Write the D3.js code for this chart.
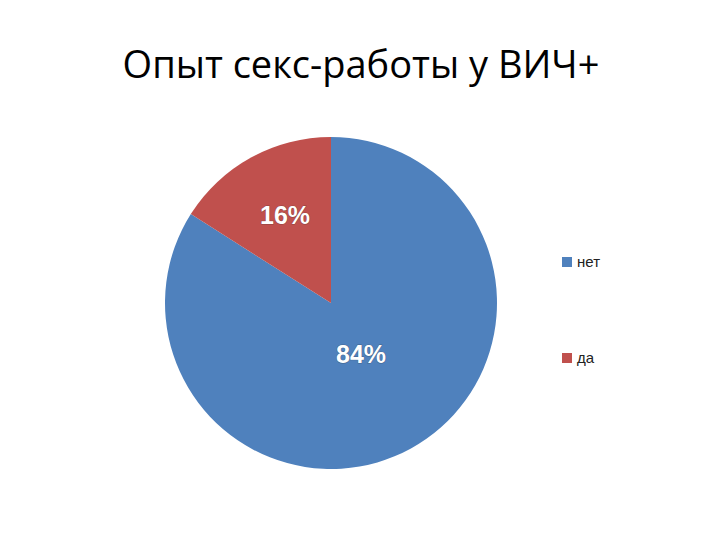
<!DOCTYPE html>
<html>
<head>
  <meta charset="UTF-8">
  <style>
    body { margin: 0; background-color: white; }
    svg { display: block; }
  </style>
</head>
<body>
<svg></svg>
<script src="https://d3js.org/d3.v7.min.js"></script>
<script>

let width = 720, height = 540;

// data
let categories = ["нет", "да"];
let values = [84, 16];
let colors = ["#4F81BD", "#C0504D"];
let title = "Опыт секс-работы у ВИЧ+";

let svg = d3.select("svg")
    .attr("width", width)
    .attr("height", height);

// title
svg.append("text")
    .attr("x", 361)
    .attr("y", 78)
    .attr("text-anchor", "middle")
    .style("font-family", "'Open Sans', Lato, sans-serif")
    .style("font-size", "38px")
    .style("fill", "black")
    .text(title);

let cx = 331, cy = 303, radius = 166;

let color = d3.scaleOrdinal().domain(categories).range(colors);

// pie starts at 12 o'clock and runs clockwise, "нет" first
let pie = d3.pie().sort(null).value(d => d.value);
let arcs = pie(categories.map((c, i) => ({name: c, value: values[i]})));

let arc = d3.arc().innerRadius(0).outerRadius(radius);

let g = svg.append("g").attr("transform", "translate(" + cx + "," + cy + ")");

g.selectAll("path")
    .data(arcs)
    .enter()
    .append("path")
    .attr("d", arc)
    .attr("fill", d => color(d.data.name));

// percentage labels (placed where the original put them)
let labelPos = {"нет": [30, 60], "да": [-46, -79]};
let total = d3.sum(values);
g.selectAll("text.pct")
    .data(arcs)
    .enter()
    .append("text")
    .attr("class", "pct")
    .attr("transform", d => "translate(" + labelPos[d.data.name] + ")")
    .attr("text-anchor", "middle")
    .style("font-family", "'Liberation Sans', Arial, sans-serif")
    .style("font-weight", "bold")
    .style("font-size", "25px")
    .style("fill", "white")
    .style("paint-order", "stroke")
    .style("stroke", "rgba(40,40,40,0.35)")
    .style("stroke-width", "1px")
    .text(d => Math.round(d.data.value / total * 100) + "%");

// legend
let legendY = d3.scalePoint().domain(categories).range([262, 358]);

let legend = svg.append("g").selectAll("g")
    .data(categories)
    .enter()
    .append("g")
    .attr("transform", d => "translate(562," + legendY(d) + ")");

legend.append("rect")
    .attr("x", 0)
    .attr("y", -5)
    .attr("width", 10)
    .attr("height", 10)
    .attr("fill", d => color(d));

legend.append("text")
    .attr("x", 15)
    .attr("y", 5)
    .style("font-family", "'Liberation Sans', Arial, sans-serif")
    .style("font-size", "15px")
    .style("fill", "#222")
    .text(d => d);

</script>
</body>
</html>
